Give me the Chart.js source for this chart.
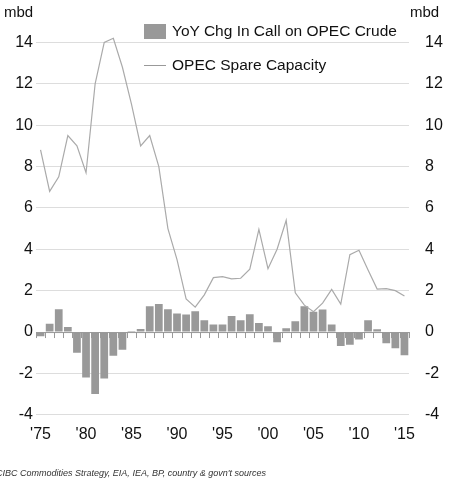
<!DOCTYPE html>
<html><head><meta charset="utf-8">
<script src="https://cdn.jsdelivr.net/npm/chart.js@4"></script>
<style>
body{margin:0;background:#fff;font-family:"Liberation Sans",Arial,sans-serif;}
#wrap{position:relative;width:449px;height:484px;}
.t{position:absolute;color:#111;}
</style></head><body>
<div id="wrap">
<canvas id="c" width="449" height="484"></canvas>
<div class="t" style="left:4px;top:3px;font-size:15px;">mbd</div>
<div class="t" style="left:410px;top:3px;font-size:15px;">mbd</div>
<div class="t" style="left:144px;top:22px;font-size:15.5px;display:flex;align-items:center;"><span style="display:inline-block;width:22px;height:15px;background:#999;margin-right:6px;"></span>YoY Chg In Call on OPEC Crude</div>
<div class="t" style="left:144px;top:56px;font-size:15.5px;display:flex;align-items:center;"><span style="display:inline-block;width:22px;height:1px;background:#999;margin-right:6px;"></span>OPEC Spare Capacity</div>
<div class="t" style="left:-4px;top:468px;font-size:9px;font-style:italic;color:#333;">CIBC Commodities Strategy, EIA, IEA, BP, country &amp; govn't sources</div>
</div>
<script>
const years=[];for(let y=1975;y<=2015;y++)years.push(y);
const callChange=[-0.2,0.4,1.1,0.25,-1.0,-2.2,-3.0,-2.25,-1.15,-0.85,0.05,0.15,1.25,1.35,1.1,0.9,0.85,1.0,0.57,0.36,0.36,0.78,0.57,0.86,0.44,0.28,-0.49,0.18,0.52,1.25,0.98,1.09,0.36,-0.68,-0.62,-0.36,0.57,0.13,-0.54,-0.78,-1.12];
const spareCapacity=[8.8,6.8,7.5,9.5,9.0,7.7,12.0,14.0,14.2,12.8,11.0,9.0,9.5,8.0,5.0,3.5,1.6,1.2,1.8,2.63,2.68,2.57,2.6,3.04,4.96,3.06,4.0,5.4,1.9,1.3,0.98,1.4,2.06,1.35,3.74,3.95,3.0,2.08,2.1,2.0,1.74];
const tickYears=[1975,1980,1985,1990,1995,2000,2005,2010,2015];
const yTicks=[-4,-2,0,2,4,6,8,10,12,14];
const zeroTicks={id:'zt',afterDatasetsDraw(ch){const x=ch.scales.x,y=ch.scales.y,ctx=ch.ctx;const y0=y.getPixelForValue(0);ctx.save();ctx.strokeStyle='#999';ctx.lineWidth=1;ctx.beginPath();ctx.moveTo(ch.chartArea.left,y0+0.5);ctx.lineTo(ch.chartArea.right,y0+0.5);for(let i=0;i<=years.length;i++){const px=Math.round(x.getPixelForValue(i)-(x.getPixelForValue(1)-x.getPixelForValue(0))/2)+0.5;ctx.moveTo(px,y0);ctx.lineTo(px,y0+6);}ctx.stroke();ctx.restore();}};
const font={family:'"Liberation Sans",Arial,sans-serif',size:16};
const setTicks=s=>{s.ticks=yTicks.map(v=>({value:v}));};
new Chart(document.getElementById('c'),{
data:{labels:years,datasets:[
{type:'line',data:spareCapacity,borderColor:'#aaa',borderWidth:1.2,pointRadius:0,tension:0,yAxisID:'y',order:0},
{type:'bar',data:callChange,backgroundColor:'#999',categoryPercentage:0.85,barPercentage:1,yAxisID:'y',order:1}]},
options:{responsive:false,animation:false,layout:{padding:{top:30,bottom:38,left:2,right:4}},
plugins:{legend:{display:false},tooltip:{enabled:false}},
scales:{
x:{grid:{display:false},border:{display:false},ticks:{autoSkip:false,maxRotation:0,color:'#111',font,padding:2,callback:(v,i)=>tickYears.includes(years[i])?"'"+String(years[i]).slice(2):''}},
y:{min:-4,max:14.6,position:'left',afterBuildTicks:setTicks,ticks:{color:'#111',font},grid:{color:'#ddd',drawTicks:false},border:{display:false},afterFit(s){s.width=34;}},
y2:{min:-4,max:14.6,position:'right',afterBuildTicks:setTicks,ticks:{color:'#111',font,padding:8},grid:{display:false},border:{display:false},afterFit(s){s.width=36;}}
}},plugins:[zeroTicks]});
</script></body></html>
